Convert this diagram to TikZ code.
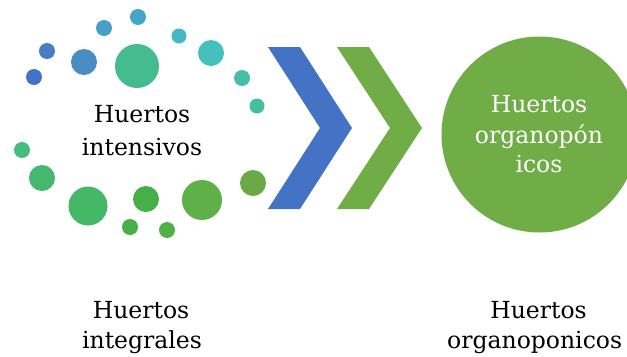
\documentclass[tikz,border=0pt]{standalone}
\usepackage{fontspec}
\setmainfont{DejaVu Serif}
\definecolor{cblue}{HTML}{4472C4}
\definecolor{cgreen}{HTML}{70AD47}
\begin{document}
\begin{tikzpicture}[x=1bp,y=-1bp,
  lbl/.style={anchor=base,font=\fontsize{23.5bp}{30bp}\selectfont,inner sep=0pt}]
\useasboundingbox (0,0) rectangle (627,356);
\clip (0,0) rectangle (627,356);
% dots
\fill[color={rgb,255:red,68;green,114;blue,196}] (34,77) circle (8);
\fill[color={rgb,255:red,72;green,125;blue,196}] (47,51) circle (8);
\fill[color={rgb,255:red,72;green,140;blue,196}] (84,62) circle (13);
\fill[color={rgb,255:red,69;green,160;blue,196}] (104,28) circle (8);
\fill[color={rgb,255:red,69;green,165;blue,196}] (138,17) circle (8);
\fill[color={rgb,255:red,69;green,188;blue,143}] (137,66) circle (22);
\fill[color={rgb,255:red,69;green,184;blue,196}] (179,36) circle (7.5);
\fill[color={rgb,255:red,69;green,192;blue,188}] (211,53) circle (13);
\fill[color={rgb,255:red,69;green,191;blue,168}] (242,78) circle (8);
\fill[color={rgb,255:red,69;green,191;blue,160}] (257,106) circle (7.5);
\fill[color={rgb,255:red,69;green,188;blue,128}] (22,150) circle (8);
\fill[color={rgb,255:red,69;green,184;blue,112}] (42,178) circle (13);
\fill[color={rgb,255:red,69;green,184;blue,104}] (88,206) circle (19.5);
\fill[color={rgb,255:red,69;green,176;blue,72}] (146,199) circle (13);
\fill[color={rgb,255:red,69;green,176;blue,72}] (130,227) circle (8);
\fill[color={rgb,255:red,80;green,176;blue,72}] (167,230) circle (8);
\fill[color={rgb,255:red,94;green,176;blue,72}] (202,200) circle (20);
\fill[color={rgb,255:red,106;green,170;blue,69}] (253,183) circle (13);
% chevrons
\fill[cblue] (268,47) -- (300,47) -- (352,128) -- (300,209) -- (268,209) -- (320,128) -- cycle;
\fill[cgreen] (337,47) -- (369,47) -- (422,128) -- (369,209) -- (337,209) -- (390,128) -- cycle;
% big circle
\node[circle,fill=cgreen,minimum size=196bp,inner sep=0pt] (big) at (539.5,134.5) {};
\node[lbl,text=white] (b1) at (539,112) {Huertos};
\node[lbl,text=white] (b2) at (539,143) {organopón};
\node[lbl,text=white] (b3) at (539,172) {icos};
\node[lbl] (i1) at (142,122) {Huertos};
\node[lbl] (i2) at (142,155) {intensivos};
\node[lbl] (g1) at (141,318) {Huertos};
\node[lbl] (g2) at (142,348) {integrales};
\node[lbl] (o1) at (538.5,318) {Huertos};
\node[lbl,anchor=base west] (o2) at (447,348) {organoponicos};
\end{tikzpicture}
\end{document}
